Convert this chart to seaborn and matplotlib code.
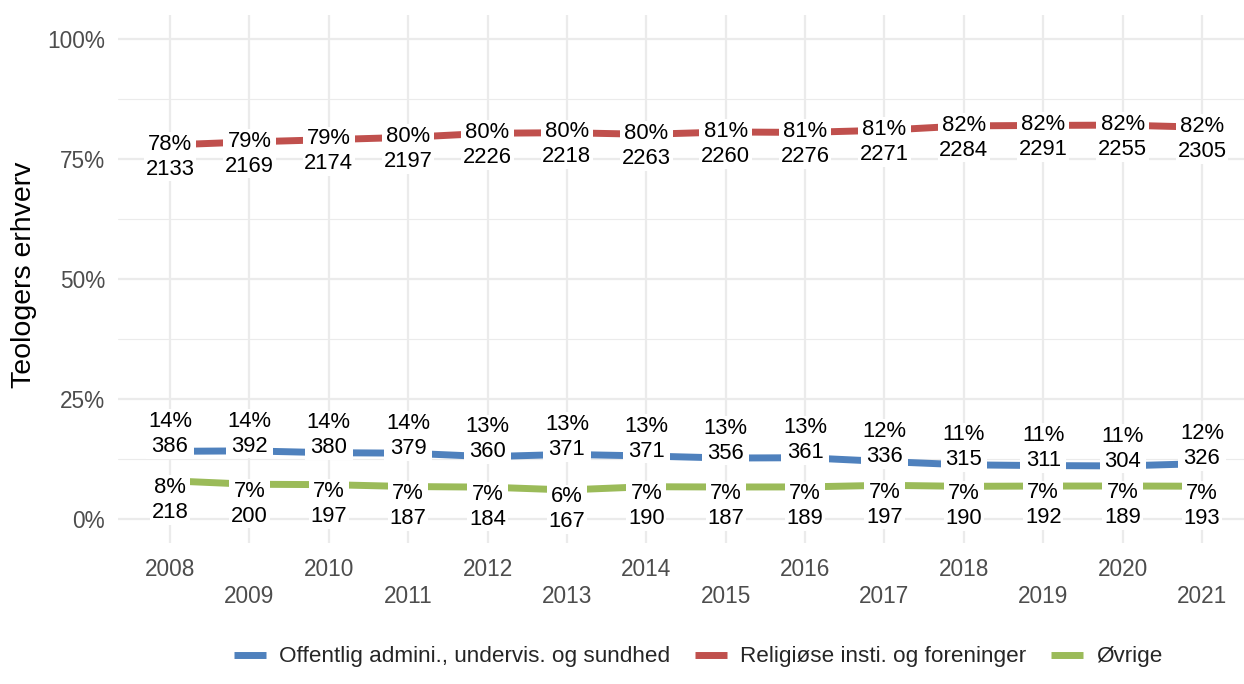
import pandas as pd
import seaborn as sns
import matplotlib.pyplot as plt
from matplotlib.ticker import PercentFormatter

# data
years = list(range(2008, 2022))
offentlig = [386, 392, 380, 379, 360, 371, 371, 356, 361, 336, 315, 311, 304, 326]
religiose = [2133, 2169, 2174, 2197, 2226, 2218, 2263, 2260, 2276, 2271, 2284, 2291, 2255, 2305]
ovrige = [218, 200, 197, 187, 184, 167, 190, 187, 189, 197, 190, 192, 189, 193]
categories = ['Offentlig admini., undervis. og sundhed', 'Religiøse insti. og foreninger', 'Øvrige']
colors = ['#4F81BD', '#C0504D', '#9BBB59']

df = pd.DataFrame({'year': years, categories[0]: offentlig,
                   categories[1]: religiose, categories[2]: ovrige})
long = df.melt(id_vars='year', var_name='kategori', value_name='antal')
long['andel'] = long['antal'] / long.groupby('year')['antal'].transform('sum')

sns.set_style('white')
plt.rcParams['font.family'] = ['Liberation Sans', 'DejaVu Sans']

fig = plt.figure(figsize=(12.44, 6.84), dpi=100)
ax = fig.add_axes([0.0952, 0.2061, 0.9125, 0.772])

sns.lineplot(data=long, x='year', y='andel', hue='kategori', hue_order=categories,
             palette=colors, linewidth=5, ax=ax, solid_capstyle='butt')
handles, labels = ax.get_legend_handles_labels()
ax.get_legend().remove()

# labels: percent over count, white box on top of the line
offsets = {categories[0]: 12.5, categories[1]: -8.5, categories[2]: -14}
for _, r in long.iterrows():
    ax.annotate('{:.0f}%\n{}'.format(r['andel'] * 100, r['antal']),
                (r['year'], r['andel']), xytext=(0, offsets[r['kategori']]),
                textcoords='offset points', ha='center', va='center',
                fontsize=15.8, linespacing=1.25, color='black',
                bbox=dict(facecolor='white', edgecolor='none', pad=1.2), zorder=5)

ax.set_xlim(2008 - 0.65, 2021 + 0.65)
ax.set_ylim(-0.05, 1.05)
ax.set_yticks([0, 0.25, 0.5, 0.75, 1])
ax.set_yticks([0.125, 0.375, 0.625, 0.875], minor=True)
ax.yaxis.set_major_formatter(PercentFormatter(1, decimals=0))
ax.set_xticks(years[::2])
ax.set_xticklabels(years[::2])
ax.set_xticks(years[1::2], minor=True)
ax.set_xticklabels(years[1::2], minor=True)

ax.tick_params(axis='both', which='both', length=0, labelsize=16.3, labelcolor='#4D4D4D')
ax.tick_params(axis='y', pad=9.5)
ax.tick_params(axis='x', which='major', pad=10.5)
ax.tick_params(axis='x', which='minor', pad=30)

ax.grid(True, which='major', axis='both', color='#EBEBEB', linewidth=1.6)
ax.grid(True, which='minor', axis='x', color='#EBEBEB', linewidth=1.6)
ax.grid(True, which='minor', axis='y', color='#EBEBEB', linewidth=0.8)
ax.set_axisbelow(True)
sns.despine(ax=ax, left=True, bottom=True)

ax.set_xlabel('')
ax.set_ylabel('Teologers erhverv', fontsize=20.5, color='black', va='center')
ax.yaxis.set_label_coords(-0.083, 0.508)

fig.legend(handles, labels, loc='center', bbox_to_anchor=(0.5615, 0.0395), ncol=3,
           frameon=False, fontsize=16.2, handlelength=1.4, handletextpad=0.6,
           columnspacing=1.1)

plt.savefig('out.png', dpi=100)
